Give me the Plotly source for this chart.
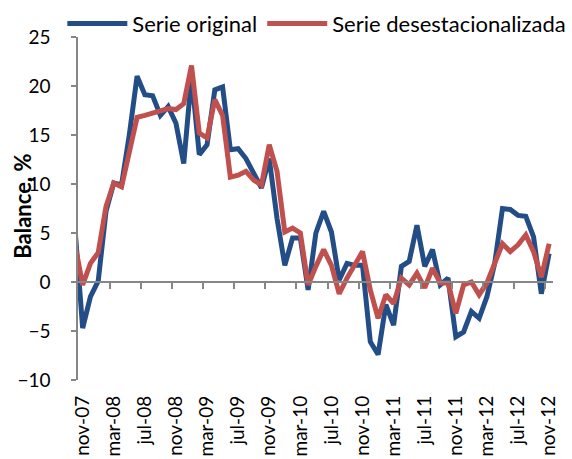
import plotly.graph_objects as go

# Months from oct-07 (partially clipped at left edge) through nov-12
month_names = ["ene", "feb", "mar", "abr", "may", "jun", "jul", "ago", "sep", "oct", "nov", "dic"]
start_year, start_month = 2007, 10  # oct-07

serie_original = [
    5.6,
    -4.7, -1.5, 0.1, 7.2, 10.1, 9.9, 15.0, 21.0, 19.1, 19.0, 17.0, 17.9,
    16.2, 12.1, 21.0, 13.0, 14.0, 19.6, 19.9, 13.5, 13.6, 12.6, 11.1, 9.6,
    12.6, 6.5, 1.7, 4.5, 4.5, -0.8, 5.0, 7.2, 5.1, 0.2, 1.9, 1.7,
    1.7, -6.1, -7.4, -2.3, -4.4, 1.6, 2.1, 5.8, 1.6, 3.3, -0.3, 0.4,
    -5.6, -5.1, -3.0, -3.7, -1.5, 1.9, 7.5, 7.4, 6.8, 6.7, 4.6, -1.2,
    2.9,
]
serie_desest = [
    3.9,
    -0.3, 1.9, 3.0, 7.7, 10.1, 9.7, 13.0, 16.8, 17.0, 17.2, 17.4, 17.7,
    17.6, 18.2, 22.1, 15.2, 14.7, 18.6, 17.0, 10.7, 10.9, 11.3, 10.4, 9.9,
    14.0, 11.3, 5.1, 5.5, 5.0, -0.3, 1.6, 3.3, 1.7, -1.2, 0.4, 1.7,
    3.1, -0.8, -3.7, -1.3, -2.2, 0.4, -0.3, 0.9, -0.6, 1.4, -0.1, -0.1,
    -3.2, -0.3, 0.0, -1.3, -0.1, 1.9, 3.9, 3.1, 3.8, 4.8, 3.1, 0.5,
    3.9,
]
y_ticks = [-10, -5, 0, 5, 10, 15, 20, 25]

n = len(serie_original)
labels = []
for k in range(n):
    m = (start_month - 1 + k) % 12
    yr = start_year + (start_month - 1 + k) // 12
    labels.append(f"{month_names[m]}-{yr % 100:02d}")

# position index: nov-07 = 0
xpos = list(range(-1, n - 1))
tick_idx = [p for p in xpos if p >= 0 and p % 4 == 0]
tick_txt = [labels[p + 1] for p in tick_idx]
sep_ticks = [p - 0.5 for p in tick_idx[1:]]

BLUE = "#234D86"
RED = "#C0504D"
GRAY = "#868686"
FONT = "Lato"

fig = go.Figure()
fig.add_trace(go.Scatter(x=xpos, y=serie_original, mode="lines", name="Serie original",
                         line=dict(color=BLUE, width=5), xaxis="x", yaxis="y"))
fig.add_trace(go.Scatter(x=xpos, y=serie_desest, mode="lines", name="Serie desestacionalizada",
                         line=dict(color=RED, width=5), xaxis="x", yaxis="y"))
# invisible trace to realise the zero-line axis
fig.add_trace(go.Scatter(x=[None], y=[None], xaxis="x2", yaxis="y", showlegend=False,
                         hoverinfo="skip"))

xr = [-0.6, 60.5]
fig.update_layout(
    width=572, height=459,
    margin=dict(l=78, r=19, t=37, b=79, autoexpand=False),
    paper_bgcolor="white", plot_bgcolor="white",
    font=dict(family=FONT, size=19, color="black"),
    showlegend=True,
    legend=dict(orientation="h", x=-0.033, y=1.1, xanchor="left", yanchor="top",
                font=dict(size=22), itemwidth=60, tracegroupgap=0,
                bgcolor="rgba(0,0,0,0)"),
    xaxis=dict(range=xr, tickvals=tick_idx, ticktext=tick_txt, tickangle=-90,
               showline=False, ticks="", showgrid=False, zeroline=False,
               ticklabelstandoff=11, automargin=False, tickfont=dict(size=19)),
    xaxis2=dict(range=xr, overlaying="x", anchor="free", position=10 / 35,
                showline=True, linecolor=GRAY, linewidth=1.5,
                tickvals=sep_ticks, ticks="outside", ticklen=6, tickcolor=GRAY,
                tickwidth=1.5, showticklabels=False, showgrid=False, zeroline=False),
    yaxis=dict(range=[-10, 25], tickvals=y_ticks, showline=True, linecolor=GRAY,
               linewidth=1.5, ticks="outside", ticklen=5, tickcolor=GRAY, tickwidth=1.5,
               showgrid=False, zeroline=False, ticklabelstandoff=17, automargin=False,
               tickfont=dict(size=19)),
    annotations=[dict(text="<b>Balance, %</b>", textangle=-90, xref="paper", yref="paper",
                      x=(23 - 78) / 475, y=0.505, xanchor="center", yanchor="middle",
                      showarrow=False, font=dict(size=22))],
)

fig.write_html("out.html", config={"displayModeBar": False},
               post_script="document.body.style.margin='0';")
